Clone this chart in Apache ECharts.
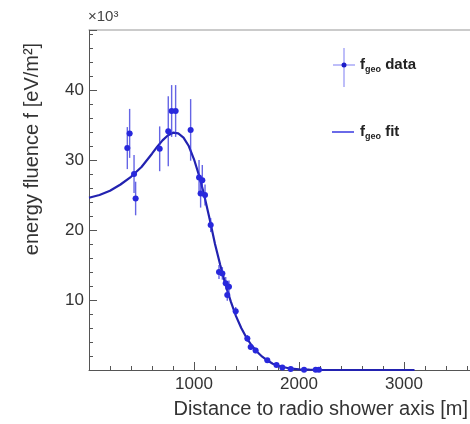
<!DOCTYPE html>
<html>
<head>
<meta charset="utf-8">
<script src="https://cdn.jsdelivr.net/npm/echarts@6/dist/echarts.min.js"></script>
<style>html,body{margin:0;padding:0;background:#fff;overflow:hidden;}#c{width:470px;height:424px;}</style>
</head>
<body>
<div id="c"></div>
<script>
// ---- data ----
var dataX   = [365, 387, 429, 444, 673, 755, 787, 825, 968, 1048, 1063, 1079, 1105, 1159, 1238, 1270, 1302, 1317, 1333, 1397, 1508, 1540, 1587, 1698, 1786, 1841, 1921, 2048, 2159, 2190];
var dataY   = [31.7, 33.8, 28.0, 24.5, 31.6, 34.1, 37.0, 37.0, 34.3, 27.5, 25.2, 27.1, 25.0, 20.7, 14.0, 13.8, 12.4, 10.7, 11.9, 8.4, 4.5, 3.3, 2.8, 1.4, 0.7, 0.35, 0.15, 0.05, 0.02, 0.02];
var dataErr = [3.0, 3.5, 2.7, 2.4, 3.2, 5.0, 3.7, 3.7, 4.4, 2.5, 2.0, 2.2, 1.5, 1.0, 1.0, 0.9, 0.9, 0.8, 0.9, 0.6, 0.5, 0.4, 0.4, 0.3, 0.2, 0.15, 0.1, 0.05, 0.05, 0.05];
var fitX = [0, 100, 200, 300, 400, 500, 600, 650, 700, 750, 800, 850, 900, 950, 1000, 1050, 1100, 1150, 1200, 1250, 1300, 1350, 1400, 1450, 1500, 1550, 1600, 1650, 1700, 1750, 1800, 1900, 2000, 2100, 2200, 2500, 3100];
var fitY = [24.6, 25.0, 25.6, 26.5, 27.6, 29.0, 30.9, 31.9, 32.8, 33.5, 33.9, 33.8, 33.2, 32.0, 30.1, 27.7, 24.8, 21.5, 18.0, 15.0, 12.2, 9.8, 7.7, 6.0, 4.6, 3.5, 2.6, 1.9, 1.35, 0.9, 0.6, 0.25, 0.1, 0.04, 0.02, 0, 0];
var xTicks = [1000, 2000, 3000];
var yTicks = [10, 20, 30, 40];

var pts = dataX.map(function (x, i) { return [x, dataY[i], dataErr[i]]; });
var fit = fitX.map(function (x, i) { return [x, fitY[i]]; });

var axisCol = '#555';
var legRich = {
  b: {font: 'bold 15px Liberation Sans', fill: '#222'},
  s: {font: 'bold 9px Liberation Sans', fill: '#222', padding: [9, 0, 0, 0]}
};
var chart = echarts.init(document.getElementById('c'), null, {renderer: 'canvas'});
chart.setOption({
  animation: false,
  backgroundColor: '#fff',
  grid: {left: 89, top: 30, width: 420, height: 340, containLabel: false, outerBoundsMode: 'none'},
  xAxis: [{
    type: 'value', min: 0, max: 4000, interval: 1000,
    axisLine: {lineStyle: {color: axisCol, width: 1}},
    axisTick: {inside: true, length: 8, lineStyle: {color: axisCol}},
    minorTick: {show: true, splitNumber: 5, length: 4, lineStyle: {color: axisCol}},
    splitLine: {show: false},
    axisLabel: {
      fontFamily: 'Liberation Sans', fontSize: 17, color: '#333', margin: 6,
      formatter: function (v) { return xTicks.indexOf(v) >= 0 ? String(v) : ''; }
    }
  }, {
    type: 'value', position: 'top', min: 0, max: 4000,
    axisLine: {show: true, onZero: false, lineStyle: {color: '#bbb', width: 1.5}},
    axisTick: {show: false}, axisLabel: {show: false}, splitLine: {show: false}
  }],
  yAxis: [{
    type: 'value', min: 0, max: 48.57, interval: 10,
    axisLine: {show: true, onZero: false, lineStyle: {color: axisCol, width: 1}},
    axisTick: {inside: true, length: 8, lineStyle: {color: axisCol}},
    minorTick: {show: true, splitNumber: 5, length: 4, lineStyle: {color: axisCol}},
    splitLine: {show: false},
    axisLabel: {
      fontFamily: 'Liberation Sans', fontSize: 17, color: '#333', margin: 5,
      formatter: function (v) { return yTicks.indexOf(v) >= 0 ? String(v) : ''; }
    }
  }],
  series: [{
    type: 'line', data: fit, showSymbol: false, smooth: false,
    lineStyle: {color: '#2222b0', width: 2.2}, z: 3
  }, {
    type: 'custom', data: pts, z: 4,
    renderItem: function (params, api) {
      var x = api.value(0), y = api.value(1), e = api.value(2);
      var c = api.coord([x, y]);
      var lo = api.coord([x, Math.max(0, y - e)]);
      var hi = api.coord([x, y + e]);
      return {
        type: 'group', children: [
          {type: 'line', shape: {x1: c[0], y1: hi[1], x2: c[0], y2: lo[1]},
           style: {stroke: 'rgba(50,50,220,0.75)', lineWidth: 1.4}},
          {type: 'line', shape: {x1: c[0] - 3, y1: c[1], x2: c[0] + 3, y2: c[1]},
           style: {stroke: 'rgba(90,90,230,0.5)', lineWidth: 1}},
          {type: 'circle', shape: {cx: c[0], cy: c[1], r: 3}, style: {fill: '#2828dc'}}
        ]
      };
    }
  }],
  graphic: [
    {type: 'text', left: 88, top: 9, style: {text: '×10³', font: '15px Liberation Sans', fill: '#444'}},
    {type: 'text', x: 32, y: 149, rotation: Math.PI / 2,
     style: {text: 'energy fluence f [eV/m²]', font: '20px Liberation Sans', fill: '#333', align: 'center', verticalAlign: 'middle'}},
    {type: 'text', x: 468, y: 409,
     style: {text: 'Distance to radio shower axis [m]', font: '20px Liberation Sans', fill: '#333', align: 'right', verticalAlign: 'middle'}},
    // legend
    {type: 'line', shape: {x1: 333, y1: 65, x2: 355, y2: 65}, style: {stroke: 'rgba(110,110,240,0.6)', lineWidth: 1.5}},
    {type: 'line', shape: {x1: 344, y1: 48, x2: 344, y2: 87}, style: {stroke: 'rgba(110,110,240,0.6)', lineWidth: 1.5}},
    {type: 'circle', shape: {cx: 344, cy: 65, r: 2.5}, style: {fill: '#1c1cc8'}},
    {type: 'text', x: 360, y: 65, style: {text: '{b|f}{s|geo}{b| data}', verticalAlign: 'middle', rich: legRich}},
    {type: 'line', shape: {x1: 332, y1: 132, x2: 354, y2: 132}, style: {stroke: '#6a6ae8', lineWidth: 2}},
    {type: 'text', x: 360, y: 132, style: {text: '{b|f}{s|geo}{b| fit}', verticalAlign: 'middle', rich: legRich}}
  ]
});
</script>
</body>
</html>
